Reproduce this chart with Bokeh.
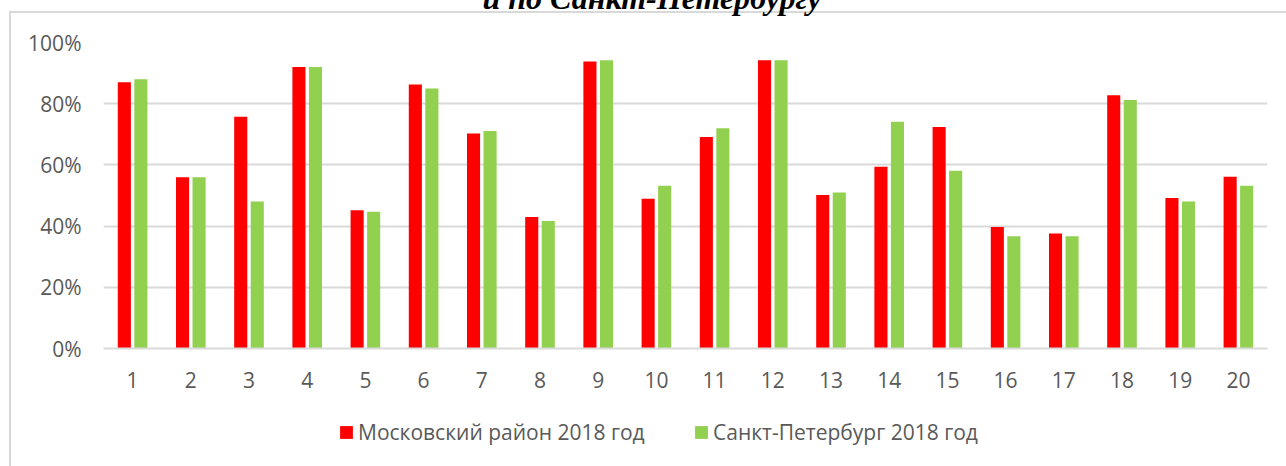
from bokeh.plotting import figure
from bokeh.layouts import column
from bokeh.models import (FactorRange, ColumnDataSource, Legend, LegendItem,
                          PrintfTickFormatter, FixedTicker, Range1d)
from bokeh.transform import dodge
from bokeh.embed import file_html
from bokeh.resources import INLINE

categories = [str(i) for i in range(1, 21)]
moscow_district = [87.0, 56.0, 75.7, 92.0, 45.2, 86.3, 70.3, 43.0, 93.8, 48.9,
                   69.1, 94.2, 50.2, 59.4, 72.4, 39.7, 37.6, 82.8, 49.2, 56.1]
spb = [88.0, 56.0, 48.0, 92.0, 44.7, 85.0, 71.1, 41.7, 94.2, 53.2,
       72.0, 94.2, 51.0, 74.1, 58.1, 36.7, 36.7, 81.2, 48.0, 53.2]
y_ticks = [0, 20, 40, 60, 80, 100]
series_names = ["Московский район 2018 год", "Санкт-Петербург 2018 год"]
title_text = "и по Санкт-Петербургу"

RED = "#ff0000"
GREEN = "#92d050"
GRID = "#d9d9d9"
TXT = "#595959"
FONT = "Open Sans"
W = 1286
N = 60          # extra canvas above the window: the title is cut by the window's top edge
MAIN_H = N + 42 + 306 + 60
LEG_H = 58

src = ColumnDataSource(data=dict(cat=categories, m=moscow_district, s=spb))

p = figure(x_range=FactorRange(factors=categories, range_padding=0),
           y_range=(0, 100), width=W, height=MAIN_H,
           frame_width=1164, frame_height=306,
           output_backend="svg", toolbar_location=None,
           min_border_left=103, min_border_right=19,
           min_border_top=42 + N, min_border_bottom=60)
p.styles = {
    "background-color": "white",
    "background-image": f"linear-gradient({GRID}, {GRID}), linear-gradient({GRID}, {GRID})",
    "background-size": "2px 100%, 100% 2px",
    "background-position": f"9px {11 + N}px, 9px {11 + N}px",
    "background-repeat": "no-repeat",
}
p.outline_line_color = None
p.background_fill_color = "white"
p.border_fill_alpha = 0

p.vbar(x=dodge("cat", -0.142, range=p.x_range), top="m", width=0.225,
       source=src, fill_color=RED, line_color=None)
p.vbar(x=dodge("cat", 0.142, range=p.x_range), top="s", width=0.225,
       source=src, fill_color=GREEN, line_color=None)

p.xgrid.grid_line_color = None
p.ygrid.grid_line_color = GRID
p.ygrid.grid_line_width = 2
p.yaxis.ticker = FixedTicker(ticks=y_ticks)
p.yaxis.formatter = PrintfTickFormatter(format="%d%%")
p.yaxis.axis_line_color = None
p.yaxis.major_tick_line_color = None
p.yaxis.minor_tick_line_color = None
p.yaxis.major_label_standoff = 16
p.xaxis.axis_line_color = GRID
p.xaxis.axis_line_width = 2
p.xaxis.major_tick_line_color = None
p.xaxis.major_label_standoff = 17
for ax in (p.xaxis, p.yaxis):
    ax.major_label_text_font = FONT
    ax.major_label_text_font_size = "21px"
    ax.major_label_text_color = TXT

p.title.text = title_text
p.title.align = "left"
p.title.offset = 379
p.title.vertical_align = "bottom"
p.title.standoff = 54
p.title.text_font = "Liberation Serif"
p.title.text_font_style = "bold italic"
p.title.text_font_size = "32px"
p.title.text_color = "black"

# legend strip below the chart (its own frame, so the legend is not clipped);
# the key renderers use the same data but lie outside this strip's y range
pl = figure(width=W, height=LEG_H,
            x_range=FactorRange(factors=categories, range_padding=0),
            y_range=Range1d(200, 300),
            output_backend="svg", toolbar_location=None,
            x_axis_location=None, y_axis_location=None, min_border=0)
pl.styles = {
    "background-color": "white",
    "background-image": f"linear-gradient({GRID}, {GRID})",
    "background-size": "2px 100%",
    "background-position": "9px 0px",
    "background-repeat": "no-repeat",
}
pl.outline_line_color = None
pl.background_fill_alpha = 0
pl.border_fill_alpha = 0
pl.grid.visible = False
k1 = pl.vbar(x="cat", top="m", width=0.225, source=src, fill_color=RED, line_color=None)
k2 = pl.vbar(x="cat", top="s", width=0.225, source=src, fill_color=GREEN, line_color=None)
lg = Legend(items=[LegendItem(label=series_names[0], renderers=[k1]),
                   LegendItem(label=series_names[1], renderers=[k2])],
            location=(235, 20), orientation="horizontal",
            glyph_width=16, glyph_height=16, label_height=16, label_width=318,
            label_standoff=4, padding=0, margin=0, spacing=17,
            border_line_color=None, background_fill_alpha=0,
            label_text_font=FONT, label_text_font_size="21px",
            label_text_color=TXT)
pl.add_layout(lg, "center")

layout = column(p, pl, spacing=0)
layout.styles = {"margin-top": f"-{N}px"}

open("out.html", "w").write(file_html(layout, INLINE))
